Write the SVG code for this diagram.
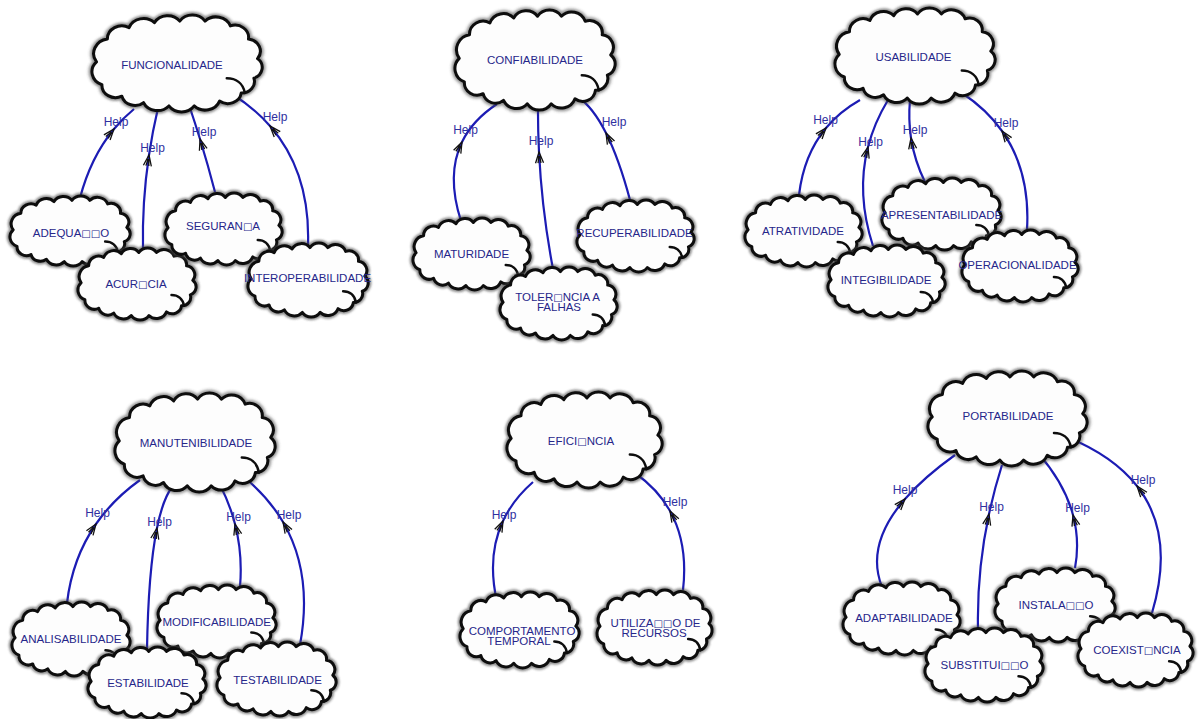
<svg xmlns="http://www.w3.org/2000/svg" width="1199" height="719" viewBox="0 0 1199 719">
<defs>
<style>
.edge{fill:none;stroke:#1c1cb4;stroke-width:2.2;marker-mid:url(#tip)}
.help{font-family:"Liberation Sans",Arial,sans-serif;font-size:12px;fill:#2f2fa0;text-anchor:middle}
.lbl{font-family:"Liberation Sans",Arial,sans-serif;font-size:11.5px;fill:#26268a;text-anchor:middle}
.sq{font-family:"DejaVu Sans",sans-serif;font-size:10px}
.halo{fill:none;stroke:#444;stroke-width:6.5;stroke-opacity:.6;vector-effect:non-scaling-stroke;filter:url(#soft)}
.body{fill:#fdfdfd;stroke:#0d0d0d;stroke-width:3;vector-effect:non-scaling-stroke;stroke-linejoin:round}
.curl{fill:none;stroke:#0d0d0d;stroke-width:2.5;vector-effect:non-scaling-stroke;stroke-linecap:round}
</style>
<filter id="soft" x="-10%" y="-10%" width="120%" height="120%">
<feGaussianBlur stdDeviation="0.8"/>
</filter>
<marker id="tip" viewBox="-14 -6 16 12" refX="0" refY="0" markerWidth="16" markerHeight="12" markerUnits="userSpaceOnUse" orient="auto">
<path d="M-11,-4 L0,0 L-11,4 M-11,-1.5 L-4,-0.3 M-11,1.5 L-4,0.3" fill="none" stroke="#111" stroke-width="1.3"/>
</marker>
<!-- cloud outline in a 94 x 59 box -->
<g id="cloud" transform="translate(-3.5,-1.3)">
<path class="halo" d="M6,30 A9,9 0 0 1 12,16 A8,8 0 0 1 24,9 A8.5,8.5 0 0 1 38,6 A8.5,8.5 0 0 1 52,5 A8.5,8.5 0 0 1 66,5 A8.5,8.5 0 0 1 80,8 A7.5,7.5 0 0 1 90,16 A7.5,7.5 0 0 1 95,28 A7,7 0 0 1 93,40 A7,7 0 0 1 86,49 A7.5,7.5 0 0 1 74,54 A8.5,8.5 0 0 1 60,57 A8.5,8.5 0 0 1 46,57 A8.5,8.5 0 0 1 32,55 A7.5,7.5 0 0 1 20,51 A7.5,7.5 0 0 1 9,44 A8.5,8.5 0 0 1 6,30 Z"/>
<path class="body" d="M6,30 A9,9 0 0 1 12,16 A8,8 0 0 1 24,9 A8.5,8.5 0 0 1 38,6 A8.5,8.5 0 0 1 52,5 A8.5,8.5 0 0 1 66,5 A8.5,8.5 0 0 1 80,8 A7.5,7.5 0 0 1 90,16 A7.5,7.5 0 0 1 95,28 A7,7 0 0 1 93,40 A7,7 0 0 1 86,49 A7.5,7.5 0 0 1 74,54 A8.5,8.5 0 0 1 60,57 A8.5,8.5 0 0 1 46,57 A8.5,8.5 0 0 1 32,55 A7.5,7.5 0 0 1 20,51 A7.5,7.5 0 0 1 9,44 A8.5,8.5 0 0 1 6,30 Z"/>
<path class="curl" d="M78,40 C83,40 87,43 88,49"/>
</g>
</defs>

<rect width="1199" height="719" fill="#ffffff"/>

<g id="connectors">
<!-- FUNCIONALIDADE -->
<path class="edge" d="M80,198 Q90.7,157.2 114,129 Q123.1,118 134,109"/>
<path class="edge" d="M143,250 Q141.9,202.6 149,155 Q152.5,131.5 158,108"/>
<path class="edge" d="M215,192 Q208.1,165.4 200,139 Q195.2,123.5 190,108"/>
<path class="edge" d="M308,245 Q310.5,172.3 270,126 Q254.3,108 232,94"/>
<!-- CONFIABILIDADE -->
<path class="edge" d="M461,221 Q446.1,174.9 462,142 Q472.6,120.1 497,104"/>
<path class="edge" d="M553,269 Q541.9,210.7 539,152 Q537.8,128 538,104"/>
<path class="edge" d="M630,200 Q619,158.8 606,133 Q593,107.3 578,97"/>
<!-- USABILIDADE -->
<path class="edge" d="M799,195 Q803.7,154.9 826,128 Q839.7,111.5 860,100"/>
<path class="edge" d="M873,246 Q856,193.9 868,147 Q874.2,122.8 888,100"/>
<path class="edge" d="M925,182 Q914.5,160.7 911,138 Q908.2,119.4 910,100"/>
<path class="edge" d="M1027,230 Q1030.5,171.2 1002,131 Q986.6,109.3 962,93"/>
<!-- MANUTENIBILIDADE -->
<path class="edge" d="M67,603 Q72.3,558.2 96,524 Q113.2,499.2 140,480"/>
<path class="edge" d="M147,650 Q148.3,570.9 157,528 Q162.8,499.4 172,487"/>
<path class="edge" d="M240,587 Q242.8,554.2 235,524 Q229.8,503.9 220,485"/>
<path class="edge" d="M300,645 Q313.2,573.5 283,522 Q268.8,497.8 245,478"/>
<!-- EFICIENCIA -->
<path class="edge" d="M497,602 Q486.6,556.1 503,521 Q513,499.5 533,482"/>
<path class="edge" d="M683,590 Q688.3,543.9 670,511 Q657.8,489.1 635,473"/>
<!-- PORTABILIDADE -->
<path class="edge" d="M882,587 Q865.2,544.8 905,499 Q923.7,477.4 955,455"/>
<path class="edge" d="M978,630 Q976.7,571.4 989,514 Q994.3,489.4 1002,465"/>
<path class="edge" d="M1075,568 Q1080,541 1073,515 Q1064.5,483.3 1038,453"/>
<path class="edge" d="M1152,613 Q1175.3,534.9 1137,486 Q1113.5,456 1067,437"/>

<text class="help" x="116" y="126">Help</text>
<text class="help" x="152.5" y="152">Help</text>
<text class="help" x="204" y="136">Help</text>
<text class="help" x="275" y="121">Help</text>
<text class="help" x="465.5" y="134">Help</text>
<text class="help" x="541" y="145">Help</text>
<text class="help" x="614" y="126">Help</text>
<text class="help" x="825.5" y="124">Help</text>
<text class="help" x="870.5" y="146">Help</text>
<text class="help" x="915" y="134">Help</text>
<text class="help" x="1006" y="127">Help</text>
<text class="help" x="97.5" y="517">Help</text>
<text class="help" x="159.5" y="526">Help</text>
<text class="help" x="238.5" y="521">Help</text>
<text class="help" x="289" y="519">Help</text>
<text class="help" x="504" y="519">Help</text>
<text class="help" x="675" y="506">Help</text>
<text class="help" x="905" y="494">Help</text>
<text class="help" x="991.5" y="511">Help</text>
<text class="help" x="1077.5" y="512">Help</text>
<text class="help" x="1143" y="484">Help</text>
</g>

<!-- parent clouds -->
<g id="node-funcionalidade"><use href="#cloud" transform="translate(92,15) scale(1.809,1.633)"/><text class="lbl" x="172" y="69">FUNCIONALIDADE</text></g>
<g id="node-confiabilidade"><use href="#cloud" transform="translate(455,10) scale(1.702,1.684)"/><text class="lbl" x="535" y="64">CONFIABILIDADE</text></g>
<g id="node-usabilidade"><use href="#cloud" transform="translate(835,8) scale(1.702,1.616)"/><text class="lbl" x="913.5" y="61">USABILIDADE</text></g>
<g id="node-manutenibilidade"><use href="#cloud" transform="translate(115,393) scale(1.702,1.667)"/><text class="lbl" x="196" y="447">MANUTENIBILIDADE</text></g>
<g id="node-eficiencia"><use href="#cloud" transform="translate(507,392) scale(1.649,1.616)"/><text class="lbl" x="581" y="444.5">EFICI<tspan class="sq">□</tspan>NCIA</text></g>
<g id="node-portabilidade"><use href="#cloud" transform="translate(928,371) scale(1.691,1.599)"/><text class="lbl" x="1008" y="420">PORTABILIDADE</text></g>

<!-- child clouds -->
<g id="node-adequacao"><use href="#cloud" transform="translate(10,196) scale(1.277,1.178)"/><text class="lbl" x="71" y="236.5">ADEQUA<tspan class="sq">□□</tspan>O</text></g>
<g id="node-acuracia"><use href="#cloud" transform="translate(78,248) scale(1.255,1.212)"/><text class="lbl" x="136" y="288">ACUR<tspan class="sq">□</tspan>CIA</text></g>
<g id="node-seguranca"><use href="#cloud" transform="translate(165,193) scale(1.245,1.212)"/><text class="lbl" x="223" y="230">SEGURAN<tspan class="sq">□</tspan>A</text></g>
<g id="node-interoperabilidade"><use href="#cloud" transform="translate(248,243) scale(1.277,1.246)"/><text class="lbl" x="307.5" y="282">INTEROPERABILIDADE</text></g>

<g id="node-maturidade"><use href="#cloud" transform="translate(413,218) scale(1.245,1.212)"/><text class="lbl" x="471.5" y="258">MATURIDADE</text></g>
<g id="node-tolerancia"><use href="#cloud" transform="translate(500,267) scale(1.245,1.229)"/><text class="lbl" x="557.5" y="301">TOLER<tspan class="sq">□</tspan>NCIA A</text><text class="lbl" x="559" y="311">FALHAS</text></g>
<g id="node-recuperabilidade"><use href="#cloud" transform="translate(577,200) scale(1.245,1.212)"/><text class="lbl" x="634.5" y="237">RECUPERABILIDADE</text></g>

<g id="node-atratividade"><use href="#cloud" transform="translate(745,195) scale(1.245,1.212)"/><text class="lbl" x="803" y="235">ATRATIVIDADE</text></g>
<g id="node-apresentabilidade"><use href="#cloud" transform="translate(882,178) scale(1.266,1.212)"/><text class="lbl" x="941.5" y="218.5">APRESENTABILIDADE</text></g>
<g id="node-integibilidade"><use href="#cloud" transform="translate(828,245) scale(1.245,1.212)"/><text class="lbl" x="886" y="284">INTEGIBILIDADE</text></g>
<g id="node-operacionalidade"><use href="#cloud" transform="translate(962,230) scale(1.234,1.212)"/><text class="lbl" x="1017.5" y="269">OPERACIONALIDADE</text></g>

<g id="node-analisabilidade"><use href="#cloud" transform="translate(12,602) scale(1.255,1.246)"/><text class="lbl" x="71" y="643">ANALISABILIDADE</text></g>
<g id="node-modificabilidade"><use href="#cloud" transform="translate(157,585) scale(1.266,1.229)"/><text class="lbl" x="216.7" y="626">MODIFICABILIDADE</text></g>
<g id="node-estabilidade"><use href="#cloud" transform="translate(88,647) scale(1.255,1.195)"/><text class="lbl" x="148" y="687">ESTABILIDADE</text></g>
<g id="node-testabilidade"><use href="#cloud" transform="translate(217,642) scale(1.266,1.246)"/><text class="lbl" x="277.5" y="684">TESTABILIDADE</text></g>

<g id="node-comportamento"><use href="#cloud" transform="translate(460,592) scale(1.266,1.279)"/><text class="lbl" x="522" y="635">COMPORTAMENTO</text><text class="lbl" x="519" y="645">TEMPORAL</text></g>
<g id="node-utilizacao"><use href="#cloud" transform="translate(597,590) scale(1.223,1.263)"/><text class="lbl" x="655.5" y="627">UTILIZA<tspan class="sq">□□</tspan>O DE</text><text class="lbl" x="654" y="637">RECURSOS</text></g>

<g id="node-adaptabilidade"><use href="#cloud" transform="translate(843,582) scale(1.245,1.229)"/><text class="lbl" x="904" y="622">ADAPTABILIDADE</text></g>
<g id="node-instalacao"><use href="#cloud" transform="translate(995,568) scale(1.277,1.246)"/><text class="lbl" x="1056" y="609">INSTALA<tspan class="sq">□□</tspan>O</text></g>
<g id="node-substituicao"><use href="#cloud" transform="translate(925,628) scale(1.255,1.246)"/><text class="lbl" x="984.5" y="669">SUBSTITUI<tspan class="sq">□□</tspan>O</text></g>
<g id="node-coexistencia"><use href="#cloud" transform="translate(1078,613) scale(1.223,1.246)"/><text class="lbl" x="1137" y="654">COEXIST<tspan class="sq">□</tspan>NCIA</text></g>
</svg>
